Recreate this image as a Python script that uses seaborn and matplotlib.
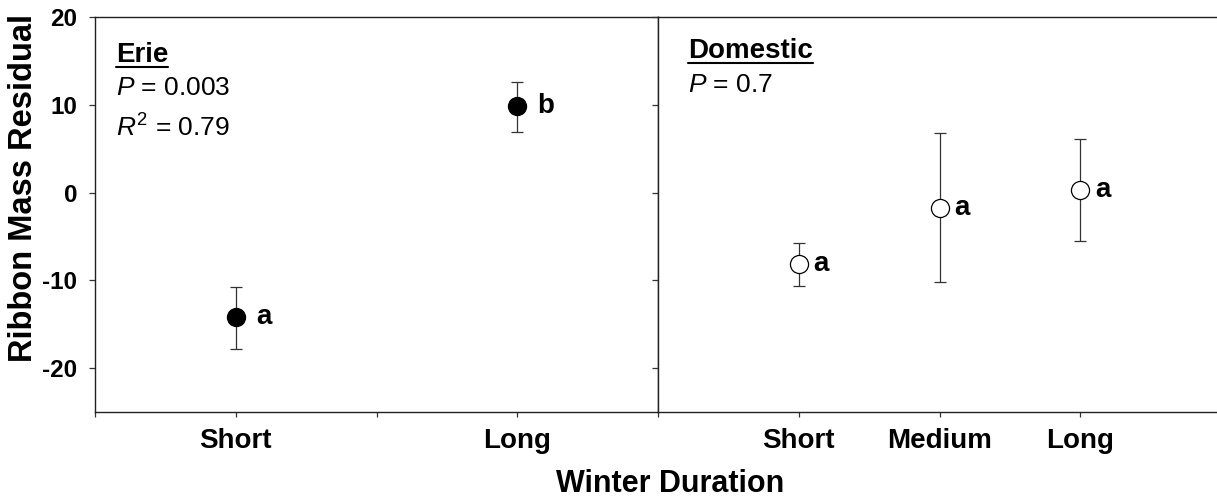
import matplotlib
matplotlib.use("Agg")
import matplotlib.pyplot as plt
from matplotlib.lines import Line2D
import numpy as np
import pandas as pd
import seaborn as sns

# Erie panel
erie_labels = ["Short", "Long"]
erie_pos = [1, 3]
erie_mean = [-14.25, 9.85]
erie_low = [-17.9, 6.9]
erie_high = [-10.8, 12.6]
erie_letters = ["a", "b"]

# Domestic panel
dom_labels = ["Short", "Medium", "Long"]
dom_pos = [1, 2, 3]
dom_mean = [-8.1, -1.75, 0.35]
dom_low = [-10.7, -10.25, -5.55]
dom_high = [-5.75, 6.75, 6.1]
dom_letters = ["a", "a", "a"]

y_ticks = [-20, -10, 0, 10, 20]

sns.set_theme(style="ticks")
plt.rcParams["font.family"] = ["Liberation Sans", "DejaVu Sans"]
plt.rcParams["mathtext.fontset"] = "custom"
plt.rcParams["mathtext.rm"] = "Liberation Sans"
plt.rcParams["mathtext.it"] = "Liberation Sans:italic"
plt.rcParams["mathtext.bf"] = "Liberation Sans:bold"
for k in ("text.color", "axes.labelcolor", "xtick.labelcolor", "ytick.labelcolor"):
    plt.rcParams[k] = "black"

W, H = 1217, 504
fig = plt.figure(figsize=(W / 100, H / 100), dpi=100)
bottom = (H - 411.7) / H
height = (411.7 - 17.3) / H
ax1 = fig.add_axes([95 / W, bottom, 563 / W, height])
ax2 = fig.add_axes([658 / W, bottom, 559 / W, height])


def draw_panel(ax, pos, mean, low, high, letters, face, dx):
    df = pd.DataFrame({"x": pos, "y": mean})
    mean = np.array(mean)
    yerr = [mean - np.array(low), np.array(high) - mean]
    ax.errorbar(pos, mean, yerr=yerr, fmt="none", ecolor="#333333",
                elinewidth=0.9, capsize=4.6, capthick=0.9, zorder=2)
    sns.scatterplot(data=df, x="x", y="y", ax=ax, s=170, color=face,
                    edgecolor="black", linewidth=0.9, zorder=3, legend=False)
    for x, y, t in zip(pos, mean, letters):
        ax.annotate(t, (x, y), xytext=(dx, 0), textcoords="offset points",
                    ha="left", va="center", fontsize=20, fontweight="bold",
                    color="black")
    ax.set_xlabel("")
    ax.set_ylabel("")
    ax.set_ylim(-25, 20)
    ax.set_yticks(y_ticks)
    for s in ax.spines.values():
        s.set_linewidth(1.0)
        s.set_color("#222222")
    ax.tick_params(axis="x", direction="out", length=3.8, width=0.9,
                   color="#333333", labelcolor="black", labelsize=20, pad=8)
    ax.tick_params(axis="y", direction="out", length=4.3, width=0.9,
                   color="#333333", labelcolor="black", labelsize=17.5, pad=8.5)


draw_panel(ax1, erie_pos, erie_mean, erie_low, erie_high, erie_letters, "black", 14.5)
draw_panel(ax2, dom_pos, dom_mean, dom_low, dom_high, dom_letters, "white", 10.8)

xt1 = [""] * 5
for p, l in zip(erie_pos, erie_labels):
    xt1[p] = l
ax1.set_xlim(0, 4)
ax1.set_xticks(range(5))
ax1.set_xticklabels(xt1, fontweight="bold")
ax1.set_yticklabels([str(v) for v in y_ticks], fontweight="bold")

ax2.set_xlim(0, 559 / 140.75)
ax2.set_xticks(dom_pos)
ax2.set_xticklabels(dom_labels, fontweight="bold")
ax2.tick_params(axis="y", labelleft=False)
ax2.spines["right"].set_visible(False)

# panel annotations
erie_t = fig.text(116 / W, (H - 62) / H, "Erie", fontsize=20, fontweight="bold", va="baseline")
dom_t = fig.text(688 / W, (H - 58) / H, "Domestic", fontsize=20, fontweight="bold", va="baseline")
fig.text(116.5 / W, (H - 95) / H, r"$\it{P}$ = 0.003", fontsize=19, va="baseline")
fig.text(116.5 / W, (H - 137) / H, r"$\it{R}^{2}$ = 0.79", fontsize=19, va="baseline")
fig.text(688.5 / W, (H - 92) / H, r"$\it{P}$ = 0.7", fontsize=19, va="baseline")

fig.canvas.draw()
for t in (erie_t, dom_t):
    bb = t.get_window_extent()
    y = t.get_position()[1] - 4.5 / H
    fig.add_artist(Line2D([bb.x0 / W, bb.x1 / W], [y, y], color="black", lw=1.5))

fig.text(670 / W, (H - 492) / H, "Winter Duration", fontsize=22,
         fontweight="bold", ha="center", va="baseline")
fig.text(24 / W, (H - 188) / H, "Ribbon Mass Residual", fontsize=23.5,
         fontweight="bold", rotation=90, ha="center", va="center")

fig.savefig("out.png", dpi=100)
